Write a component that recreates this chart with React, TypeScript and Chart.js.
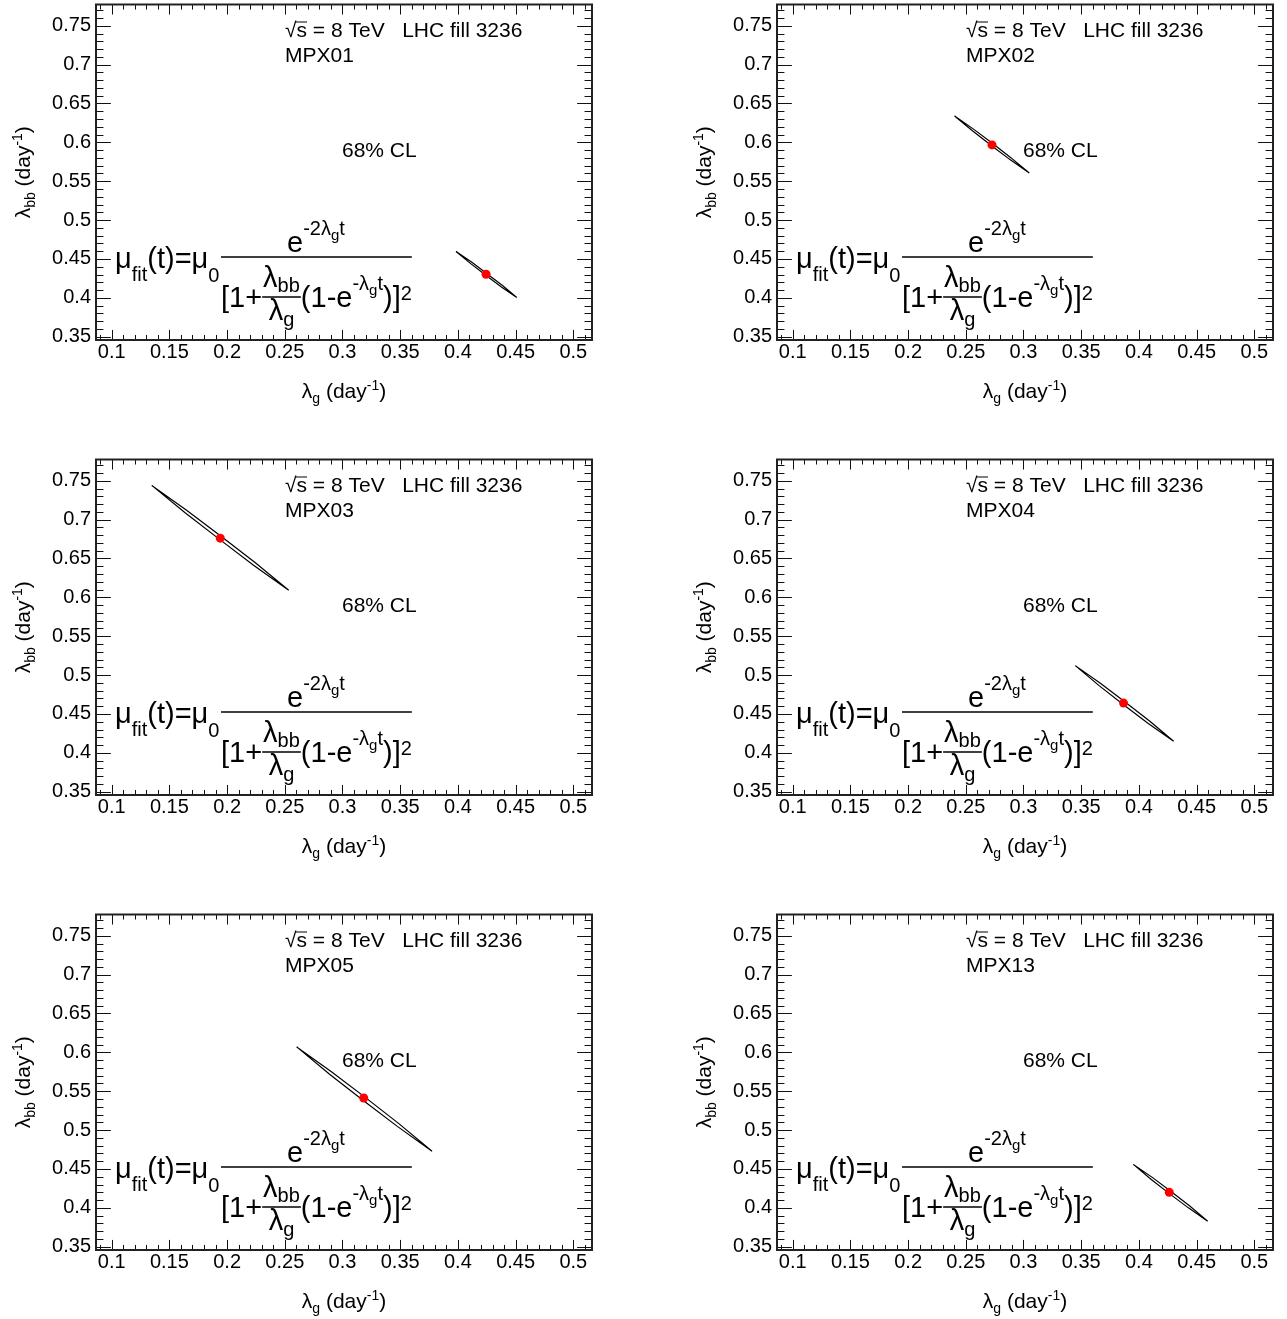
import React, { useEffect, useRef } from "react";
import { Chart, registerables } from "chart.js";

Chart.register(...registerables);

// ---------- data ----------
const X_MIN = 0.0864;
const X_MAX = 0.5162;
const Y_MIN = 0.3458;
const Y_MAX = 0.7773;

const X_TICKS = [0.1, 0.15, 0.2, 0.25, 0.3, 0.35, 0.4, 0.45, 0.5];
const X_TICK_LABELS = ["0.1", "0.15", "0.2", "0.25", "0.3", "0.35", "0.4", "0.45", "0.5"];
const Y_TICKS = [0.35, 0.4, 0.45, 0.5, 0.55, 0.6, 0.65, 0.7, 0.75];
const Y_TICK_LABELS = ["0.35", "0.4", "0.45", "0.5", "0.55", "0.6", "0.65", "0.7", "0.75"];

const DETECTORS = ["MPX01", "MPX02", "MPX03", "MPX04", "MPX05", "MPX13"];
const BEST_FIT_X = [0.4244, 0.2727, 0.1941, 0.3867, 0.3184, 0.4263];
const BEST_FIT_Y = [0.4303, 0.5967, 0.6761, 0.464, 0.5413, 0.42];

const CONTOUR_MPX01_X = [0.3984, 0.4111, 0.4242, 0.4374, 0.451, 0.4384, 0.4252, 0.4121, 0.3984];
const CONTOUR_MPX01_Y = [0.4597, 0.444, 0.4291, 0.4144, 0.4005, 0.4162, 0.4311, 0.4458, 0.4597];
const CONTOUR_MPX02_X = [0.2403, 0.256, 0.2721, 0.2883, 0.305, 0.2893, 0.2733, 0.257, 0.2403];
const CONTOUR_MPX02_Y = [0.6339, 0.6145, 0.596, 0.5778, 0.5605, 0.58, 0.5984, 0.6167, 0.6339];
const CONTOUR_MPX03_X = [0.1347, 0.1636, 0.1932, 0.2229, 0.2534, 0.2245, 0.195, 0.1652, 0.1347];
const CONTOUR_MPX03_Y = [0.744, 0.7088, 0.6749, 0.6414, 0.6092, 0.6444, 0.6783, 0.7118, 0.744];
const CONTOUR_MPX04_X = [0.3449, 0.3655, 0.3867, 0.4081, 0.4301, 0.4095, 0.3883, 0.3669, 0.3449];
const CONTOUR_MPX04_Y = [0.5122, 0.4865, 0.462, 0.4378, 0.4149, 0.4406, 0.4652, 0.4893, 0.5122];
const CONTOUR_MPX05_X = [0.2603, 0.2888, 0.318, 0.3475, 0.3776, 0.3491, 0.32, 0.2904, 0.2603];
const CONTOUR_MPX05_Y = [0.607, 0.5719, 0.5382, 0.5048, 0.4729, 0.508, 0.5418, 0.5751, 0.607];
const CONTOUR_MPX13_X = [0.3952, 0.4107, 0.4267, 0.4429, 0.4596, 0.4441, 0.4281, 0.4119, 0.3952];
const CONTOUR_MPX13_Y = [0.4559, 0.4365, 0.418, 0.4, 0.3829, 0.4024, 0.4208, 0.4389, 0.4559];

const CONTOURS_X = [CONTOUR_MPX01_X, CONTOUR_MPX02_X, CONTOUR_MPX03_X, CONTOUR_MPX04_X, CONTOUR_MPX05_X, CONTOUR_MPX13_X];
const CONTOURS_Y = [CONTOUR_MPX01_Y, CONTOUR_MPX02_Y, CONTOUR_MPX03_Y, CONTOUR_MPX04_Y, CONTOUR_MPX05_Y, CONTOUR_MPX13_Y];

const ENERGY_TEXT = " = 8 TeV   LHC fill 3236";
const CL_TEXT = "68% CL";

// ---------- layout ----------
const PANEL_W = 606;
const PANEL_H = 409;
const COL_OFFSET = 681;
const ROW_OFFSET = 455;
const FONT = '"Liberation Sans", Arial, Helvetica, sans-serif';
const BIG = 29;
const SUB = 20;
const SUB2 = 15;

function put(ctx: CanvasRenderingContext2D, s: string, x: number, y: number, size: number) {
  ctx.font = `${size}px ${FONT}`;
  ctx.textAlign = "left";
  ctx.textBaseline = "alphabetic";
  ctx.fillText(s, x, y);
  return x + ctx.measureText(s).width;
}
function widthOf(ctx: CanvasRenderingContext2D, s: string, size: number) {
  ctx.font = `${size}px ${FONT}`;
  return ctx.measureText(s).width;
}

function drawFormula(ctx: CanvasRenderingContext2D) {
  ctx.fillStyle = "#000";
  ctx.strokeStyle = "#000";
  let x = 115;
  x = put(ctx, "\u03bc", x, 268, BIG);
  x = put(ctx, "fit", x, 281, SUB);
  x = put(ctx, "(t)=\u03bc", x, 268, BIG);
  put(ctx, "0", x, 282, SUB);

  // numerator
  let nx = 287;
  nx = put(ctx, "e", nx, 252, BIG);
  nx = put(ctx, "-2\u03bb", nx, 235, SUB);
  nx = put(ctx, "g", nx, 240, SUB2);
  put(ctx, "t", nx, 235, SUB);

  // denominator
  let dx = 221;
  dx = put(ctx, "[1+", dx, 307, BIG);
  const fracL = dx;
  let fx = put(ctx, "\u03bb", fracL + 1, 287, BIG);
  fx = put(ctx, "bb", fx, 292, SUB);
  const fracR = fx + 1;
  ctx.lineWidth = 1.5;
  ctx.beginPath();
  ctx.moveTo(fracL, 297);
  ctx.lineTo(fracR, 297);
  ctx.stroke();
  const wg = widthOf(ctx, "\u03bb", BIG) + widthOf(ctx, "g", SUB);
  let gx = (fracL + fracR) / 2 - wg / 2;
  gx = put(ctx, "\u03bb", gx, 320, BIG);
  put(ctx, "g", gx, 326, SUB);
  dx = fracR;
  dx = put(ctx, "(1-e", dx, 307, BIG);
  dx = put(ctx, "-\u03bb", dx, 290, SUB);
  dx = put(ctx, "g", dx, 295, SUB2);
  dx = put(ctx, "t", dx, 290, SUB);
  dx = put(ctx, ")]", dx, 307, BIG);
  dx = put(ctx, "2", dx, 300, SUB);

  ctx.lineWidth = 1.5;
  ctx.beginPath();
  ctx.moveTo(221, 257);
  ctx.lineTo(Math.max(dx, 411), 257);
  ctx.stroke();
}

function makeRootPlugin(idx: number) {
  return {
    id: "rootStyle" + idx,
    afterDraw(chart: any) {
      const ctx: CanvasRenderingContext2D = chart.ctx;
      const xs = chart.scales.x;
      const ys = chart.scales.y;
      const { left, right, top, bottom } = chart.chartArea;
      ctx.save();
      ctx.strokeStyle = "#111";
      ctx.fillStyle = "#000";

      // ticks (inward, all four sides)
      ctx.lineWidth = 1;
      ctx.beginPath();
      const fh = bottom - top;
      const fw = right - left;
      const xMaj = 0.03 * fh;
      const yMaj = 0.03 * fw;
      for (let k = Math.ceil(X_MIN / 0.01 - 1e-6); k * 0.01 <= X_MAX + 1e-9; k++) {
        const v = k * 0.01;
        const px = Math.round(xs.getPixelForValue(v)) + 0.5;
        const len = k % 5 === 0 ? xMaj : xMaj / 2;
        ctx.moveTo(px, bottom);
        ctx.lineTo(px, bottom - len);
        ctx.moveTo(px, top);
        ctx.lineTo(px, top + len);
      }
      for (let k = Math.ceil(Y_MIN / 0.01 - 1e-6); k * 0.01 <= Y_MAX + 1e-9; k++) {
        const v = k * 0.01;
        const py = Math.round(ys.getPixelForValue(v)) + 0.5;
        const len = k % 5 === 0 ? yMaj : yMaj / 2;
        ctx.moveTo(left, py);
        ctx.lineTo(left + len, py);
        ctx.moveTo(right, py);
        ctx.lineTo(right - len, py);
      }
      ctx.stroke();

      // frame
      ctx.lineWidth = 2;
      ctx.strokeStyle = "#222";
      ctx.strokeRect(left, top, right - left, bottom - top);

      // tick labels
      ctx.fillStyle = "#000";
      ctx.font = `20px ${FONT}`;
      ctx.textAlign = "center";
      ctx.textBaseline = "middle";
      X_TICKS.forEach((v, i) => {
        ctx.fillText(X_TICK_LABELS[i], xs.getPixelForValue(v), bottom + 12);
      });
      ctx.textAlign = "right";
      Y_TICKS.forEach((v, i) => {
        ctx.fillText(Y_TICK_LABELS[i], left - 5, ys.getPixelForValue(v));
      });

      // x title
      {
        const total =
          widthOf(ctx, "\u03bb", 21) + widthOf(ctx, "g", 14) + widthOf(ctx, " (day", 21) +
          widthOf(ctx, "-1", 14) + widthOf(ctx, ")", 21);
        let tx = (left + right) / 2 - total / 2;
        const by = bottom + 58;
        tx = put(ctx, "\u03bb", tx, by, 21);
        tx = put(ctx, "g", tx, by + 5, 14);
        tx = put(ctx, " (day", tx, by, 21);
        tx = put(ctx, "-1", tx, by - 8, 14);
        put(ctx, ")", tx, by, 21);
      }
      // y title
      {
        ctx.save();
        ctx.translate(30, (top + bottom) / 2);
        ctx.rotate(-Math.PI / 2);
        const total =
          widthOf(ctx, "\u03bb", 21) + widthOf(ctx, "bb", 14) + widthOf(ctx, " (day", 21) +
          widthOf(ctx, "-1", 14) + widthOf(ctx, ")", 21);
        let tx = -total / 2;
        tx = put(ctx, "\u03bb", tx, 0, 21);
        tx = put(ctx, "bb", tx, 5, 14);
        tx = put(ctx, " (day", tx, 0, 21);
        tx = put(ctx, "-1", tx, -8, 14);
        put(ctx, ")", tx, 0, 21);
        ctx.restore();
      }

      // header texts
      {
        let tx = put(ctx, "\u221a", 285, 37, 21);
        const sx = tx;
        tx = put(ctx, "s", tx, 37, 21);
        ctx.lineWidth = 1;
        ctx.strokeStyle = "#000";
        ctx.beginPath();
        ctx.moveTo(sx - 1, 22);
        ctx.lineTo(tx, 22);
        ctx.stroke();
        put(ctx, ENERGY_TEXT, tx, 37, 21);
        put(ctx, DETECTORS[idx], 285, 62, 21);
        put(ctx, CL_TEXT, 342, 157, 21);
      }

      drawFormula(ctx);
      ctx.restore();
    },
  };
}

function Panel({ idx }: { idx: number }) {
  const ref = useRef<HTMLCanvasElement | null>(null);
  useEffect(() => {
    if (!ref.current) return;
    const contour = CONTOURS_X[idx].map((x, i) => ({ x, y: CONTOURS_Y[idx][i] }));
    const chart = new Chart(ref.current, {
      type: "scatter",
      data: {
        datasets: [
          {
            label: "best fit",
            data: [{ x: BEST_FIT_X[idx], y: BEST_FIT_Y[idx] }],
            pointRadius: 4.5,
            pointBackgroundColor: "#ff0000",
            pointBorderColor: "#ff0000",
            pointBorderWidth: 0,
            order: 0,
          },
          {
            label: "68% CL",
            data: contour,
            showLine: true,
            borderColor: "#000",
            borderWidth: 1.2,
            pointRadius: 0,
            tension: 0,
            fill: false,
            order: 1,
          } as any,
        ],
      },
      options: {
        responsive: false,
        animation: false,
        devicePixelRatio: 1,
        layout: { padding: { left: 96, top: 3, right: PANEL_W - 592, bottom: PANEL_H - 340 } },
        plugins: { legend: { display: false }, tooltip: { enabled: false } },
        scales: {
          x: { type: "linear", min: X_MIN, max: X_MAX, display: false },
          y: { type: "linear", min: Y_MIN, max: Y_MAX, display: false },
        },
      },
      plugins: [makeRootPlugin(idx)],
    });
    return () => chart.destroy();
  }, [idx]);
  return <canvas ref={ref} width={PANEL_W} height={PANEL_H} style={{ width: PANEL_W, height: PANEL_H, display: "block" }} />;
}

export default function App() {
  return (
    <div
      style={{
        position: "absolute",
        left: 0,
        top: 0,
        width: 1287,
        height: 1319,
        background: "#fff",
        overflow: "hidden",
      }}
    >
      {DETECTORS.map((d, i) => (
        <div
          key={d}
          style={{
            position: "absolute",
            left: (i % 2) * COL_OFFSET,
            top: Math.floor(i / 2) * ROW_OFFSET,
            width: PANEL_W,
            height: PANEL_H,
          }}
        >
          <Panel idx={i} />
        </div>
      ))}
    </div>
  );
}
